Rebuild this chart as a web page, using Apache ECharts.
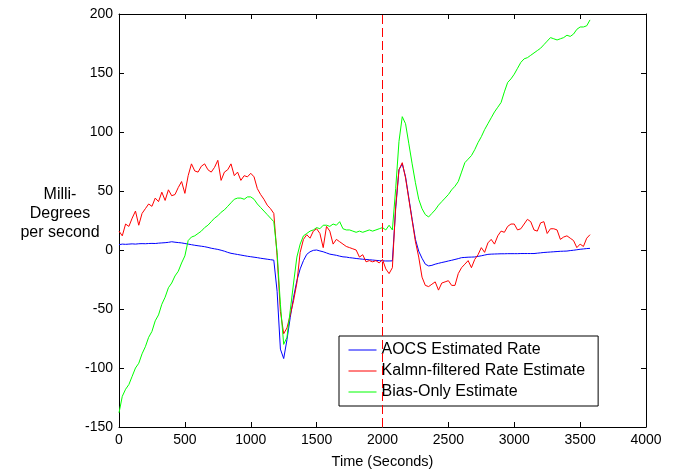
<!DOCTYPE html>
<html>
<head>
<meta charset="utf-8">
<script src="https://cdn.jsdelivr.net/npm/echarts@6/dist/echarts.min.js"></script>
<style>html,body{margin:0;padding:0;background:#fff;}#chart{width:675px;height:474px;}</style>
</head>
<body>
<div id="chart"></div>
<script>
// Sample times (seconds)
const times = [
  0,25,50,75,100,125,150,175,
  200,225,250,275,300,325,350,375,
  400,425,450,475,500,525,550,575,
  600,625,650,675,700,725,750,775,
  800,825,850,875,900,925,950,975,
  1000,1025,1050,1075,1100,1125,1150,1175,
  1200,1225,1250,1275,1300,1325,1350,1375,
  1400,1425,1450,1475,1500,1525,1550,1575,
  1600,1625,1650,1675,1700,1725,1750,1775,
  1800,1825,1850,1875,1900,1925,1950,1975,
  2000,2025,2050,2075,2100,2125,2150,2175,
  2200,2225,2250,2275,2300,2325,2350,2375,
  2400,2425,2450,2475,2500,2525,2550,2575,
  2600,2625,2650,2675,2700,2725,2750,2775,
  2800,2825,2850,2875,2900,2925,2950,2975,
  3000,3025,3050,3075,3100,3125,3150,3175,
  3200,3225,3250,3275,3300,3325,3350,3375,
  3400,3425,3450,3475,3500,3525,3550,3575
];
// AOCS Estimated Rate (milli-degrees per second)
const aocsRate = [
  4.5,5,4.8,5,5.2,5,5.3,5.4,
  5.3,5.5,5.6,5.5,5.8,6,6.2,6.5,
  7,6.6,6.3,6,5.5,5,4.5,4,
  3.6,3.2,2.8,2.2,1.5,1,0.5,-0.2,
  -1,-2,-2.8,-3.3,-3.8,-4.3,-4.8,-5.3,
  -5.7,-6.1,-6.5,-7,-7.4,-7.8,-8.2,-8.6,
  -35,-84,-92,-76,-57,-40,-26,-16,
  -9,-3.7,-1.5,-0.3,0,-0.8,-1.5,-2.5,
  -3.5,-4,-4.5,-5.2,-5.8,-6,-6.5,-6.8,
  -7.2,-7.5,-7.8,-8,-8.3,-8.5,-8.8,-9,
  -9.2,-9.3,-9.3,-9.2,35,68,73,62,
  44,26,9,-1,-7,-12,-13.5,-13,
  -12,-11.3,-10.6,-10,-9.3,-8.7,-8,-7.3,
  -6.5,-6.3,-6.1,-6,-5.9,-5.4,-4.9,-4.3,
  -3.7,-3.5,-3.4,-3.3,-3.2,-3.2,-3.1,-3.1,
  -3.1,-3.1,-3,-3,-3,-3,-3,-2.7,
  -2.4,-2.1,-1.9,-1.7,-1.5,-1.3,-1.1,-1,
  -0.9,-0.5,-0.2,0.2,0.6,0.9,1.2,1.4
];
// Kalmn-filtered Rate Estimate
const kalmanRate = [
  16,12,22,20,27,33,21,31,
  35,39,37,44,41,49,42,51,
  46,47,53,58,48,63,73,67,
  66,71,73,68,66,70,76,59,
  66,68,73,63,66,59,63,62,
  65,62,52,47,43,38,35,31,
  -5,-52,-71,-66,-55,-43,-28,-2,
  9,13,10,16,18,14,2,20,
  16,5,9,7,5,3,2,1,
  0,-6,-4,-10,-9,-10,-9,-11,
  -8,-16,-20,-15,37,68,74,61,
  43,25,7,-6,-23,-30,-31,-29,
  -27,-34,-28,-27,-26,-30,-30,-20,
  -15,-12,-9,-15,-8,-4,2,-2,
  6,9,5,12,16,15,20,22,
  22,17,18,22,26,24,17,16,
  23,24,14,18,18,17,9,11,
  12,10,8,2,5,3,10,13
];
// Bias-Only Estimate
const biasOnly = [
  -138,-124,-118,-114,-107,-100,-96,-88,
  -82,-74,-69,-60,-55,-46,-40,-32,
  -28,-22,-18,-11,-5,8,11,12,
  14,16,19,21,24,27,29,32,
  34,37,40,43,44,44,43,45,
  45,43,39,36,33,30,27,24,
  -2,-46,-80,-74,-51,-28,-6,5,
  12,14,16,17,19,18,21,21,
  20,22,21,24,18,17,17,16,
  15,16,15,16,17,16,17,18,
  19,17,21,17,52,92,113,107,
  90,73,57,43,35,30,28,31,
  34,38,41,44,47,51,54,58,
  66,74,77,80,85,91,96,102,
  107,112,117,121,125,134,142,145,
  149,154,159,162,163,165,167,169,
  171,174,177,180,179,178,179,180,
  182,181,183,187,189,189,190,195
];
const markerTime = 2000;
const seriesNames = ['AOCS Estimated Rate', 'Kalmn-filtered Rate Estimate', 'Bias-Only Estimate'];
const seriesColors = ['#0000ff', '#ff0000', '#00ff00'];
const xTicks = {min: 0, max: 4000, interval: 500};
const yTicks = {min: -150, max: 200, interval: 50};

const FONT = '"Liberation Sans", Arial, Helvetica, sans-serif';
function pairs(vals) { return times.map((t, i) => [t, vals[i]]); }
const allVals = [aocsRate, kalmanRate, biasOnly];

const chart = echarts.init(document.getElementById('chart'), null, {renderer: 'canvas'});
const axisLine = {show: true, onZero: false, lineStyle: {color: '#000', width: 1}};
const axisTick = {show: true, inside: true, length: 5, lineStyle: {color: '#000', width: 1}};
const plain = v => String(v);
chart.setOption({
  animation: false,
  backgroundColor: '#fff',
  grid: {left: 119, right: 29, top: 14, bottom: 43, containLabel: false},
  xAxis: [
    {type: 'value', min: xTicks.min, max: xTicks.max, interval: xTicks.interval, position: 'bottom',
     axisLine, axisTick, splitLine: {show: false},
     axisLabel: {color: '#000', fontSize: 14, fontFamily: FONT, margin: 6, formatter: plain},
     name: 'Time (Seconds)', nameLocation: 'middle', nameGap: 27,
     nameTextStyle: {color: '#000', fontSize: 14.5, fontFamily: FONT}},
    {type: 'value', min: xTicks.min, max: xTicks.max, interval: xTicks.interval, position: 'top',
     axisLine, axisTick, splitLine: {show: false}, axisLabel: {show: false}}
  ],
  yAxis: [
    {type: 'value', min: yTicks.min, max: yTicks.max, interval: yTicks.interval, position: 'left',
     axisLine, axisTick, splitLine: {show: false},
     axisLabel: {color: '#000', fontSize: 14, fontFamily: FONT, margin: 6, formatter: plain}},
    {type: 'value', min: yTicks.min, max: yTicks.max, interval: yTicks.interval, position: 'right',
     axisLine, axisTick, splitLine: {show: false}, axisLabel: {show: false}}
  ],
  legend: {
    orient: 'vertical', left: 339, top: 336,
    itemWidth: 28, itemHeight: 14, itemGap: 5, itemTextGap: 10,
    padding: [6, 13, 6, 9],
    borderColor: '#000', borderWidth: 1, backgroundColor: '#fff',
    itemStyle: {opacity: 0},
    lineStyle: {width: 1},
    textStyle: {color: '#000', fontSize: 16, fontFamily: FONT},
    data: seriesNames
  },
  graphic: [{
    type: 'text', x: 60, y: 214,
    style: {text: 'Milli-\nDegrees\nper second', fill: '#000', fontSize: 16, fontFamily: FONT,
            align: 'center', verticalAlign: 'middle', lineHeight: 19}
  }],
  series: seriesNames.map((name, i) => ({
    name, type: 'line', showSymbol: false, symbol: 'none',
    data: pairs(allVals[i]),
    lineStyle: {color: seriesColors[i], width: 1},
    itemStyle: {color: seriesColors[i]},
    z: 2 + i,
    markLine: i === 0 ? {
      silent: true, symbol: 'none', label: {show: false},
      lineStyle: {color: '#ff0000', type: [9, 4], width: 1},
      data: [{xAxis: markerTime}]
    } : undefined
  }))
});
</script>
</body>
</html>
